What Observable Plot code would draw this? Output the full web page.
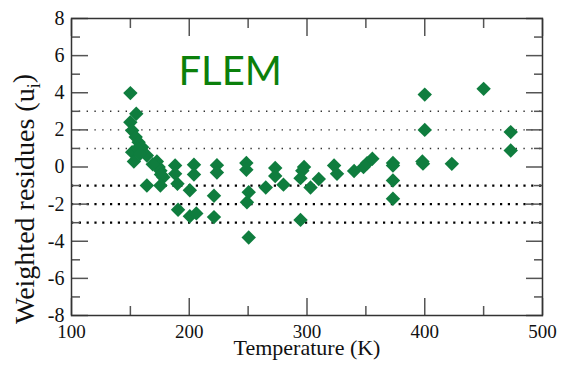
<!DOCTYPE html>
<html><head><meta charset="utf-8">
<script src="https://cdn.jsdelivr.net/npm/d3@7"></script>
<script src="https://cdn.jsdelivr.net/npm/@observablehq/plot@0.6"></script>
<style>body{margin:0;background:#fff}</style>
</head><body><div id="chart"></div>
<script>
const temperature = [150, 155, 150, 151.5, 154.5, 157, 160, 151.5, 153, 156,
  164, 158, 172.5, 174, 175.5, 178, 176, 169, 164, 175.5,
  190, 188, 188, 204, 204, 200.5, 190.5, 200.5, 206, 221,
  221, 223.5, 223.5, 248.5, 248.5, 250.5, 249, 250.5, 265, 273,
  273, 280, 294.5, 297.5, 296, 294.5, 303, 310, 323, 325.5,
  340, 348, 351, 355.5, 373, 373, 373, 373, 398, 398.5,
  400, 400, 423, 450, 473, 473];
const residues = [3.98, 2.87, 2.41, 1.97, 1.61, 1.34, 1.07, 0.8, 0.3, 1.0,
  0.62, 0.7, 0.3, 0.0, -0.2, -0.55, -0.4, 0.15, -1.0, -1.0,
  -0.9, 0.08, -0.37, 0.12, -0.4, -1.25, -2.3, -2.65, -2.5, -2.7,
  -1.55, 0.1, -0.3, 0.22, -0.15, -1.36, -1.9, -3.8, -1.1, -0.05,
  -0.48, -0.95, -2.85, 0.0, -0.2, -0.6, -1.1, -0.65, 0.08, -0.37,
  -0.22, 0.0, 0.2, 0.44, 0.22, 0.08, -0.73, -1.71, 0.3, 0.18,
  2.0, 3.9, 0.17, 4.21, 1.88, 0.89];
const xMajor = [100, 200, 300, 400, 500];
const xMinor = [150, 250, 350, 450];
const yMajor = [-8, -6, -4, -2, 0, 2, 4, 6, 8];
const yMinor = [-7, -5, -3, -1, 1, 3, 5, 7];
const dottedUpper = [1, 2, 3];
const dottedLower = [-1, -2, -3];
const xTitle = "Temperature (K)";
const yTitle = "Weighted residues (u)";
const yTitleSub = "i";
const label = "FLEM";

const points = temperature.map((t, i) => ({t, u: residues[i]}));
const fmt = d => String(d);
const tk = {stroke: "#555", strokeWidth: 1.5, fill: "none"};

const chart = Plot.plot({
  width: 564, height: 369,
  marginLeft: 71, marginRight: 22, marginTop: 18, marginBottom: 54,
  style: {fontFamily: "'Liberation Serif', serif", background: "#fff", color: "#111"},
  x: {domain: [100, 500]},
  y: {domain: [-8, 8]},
  marks: [
    Plot.ruleY(dottedUpper, {stroke: "#333", strokeWidth: 1.4, strokeDasharray: "1.4,6.4"}),
    Plot.ruleY(dottedLower, {stroke: "#000", strokeWidth: 2.2, strokeDasharray: "2.2,5.6"}),
    Plot.axisX(xMajor, {anchor: "bottom", tickSize: -17, ...tk}),
    Plot.axisX(xMinor, {anchor: "bottom", tickSize: -9, ...tk}),
    Plot.axisX(xMajor, {anchor: "top", tickSize: -17, ...tk}),
    Plot.axisX(xMinor, {anchor: "top", tickSize: -9, ...tk}),
    Plot.axisY(yMajor, {anchor: "left", tickSize: -17, ...tk}),
    Plot.axisY(yMinor, {anchor: "left", tickSize: -9, ...tk}),
    Plot.axisY(yMajor, {anchor: "right", tickSize: -17, ...tk}),
    Plot.axisY(yMinor, {anchor: "right", tickSize: -9, ...tk}),
    Plot.axisX(xMajor, {anchor: "bottom", tickSize: 0, tickPadding: 9, fontSize: 19, tickFormat: fmt, label: null, fill: "#111"}),
    Plot.axisY(yMajor, {anchor: "left", tickSize: 0, tickPadding: 7, fontSize: 20, tickFormat: fmt, label: null, fill: "#111"}),
    Plot.frame({stroke: "#333", strokeWidth: 1.5}),
    Plot.dot(points, {x: "t", y: "u", symbol: "diamond2", r: 6.5, fill: "#0f7d3e", stroke: "none"}),
    Plot.text([xTitle], {frameAnchor: "bottom", dy: 32, fontSize: 22, lineAnchor: "middle", fill: "#111"}),
    Plot.text([yTitle], {frameAnchor: "left", textAnchor: "middle", rotate: -90, dx: -46, dy: 32, fontSize: 28, lineAnchor: "middle", fill: "#111"}),
    Plot.text([label], {frameAnchor: "top-left", textAnchor: "start", lineAnchor: "top", dx: 107, dy: 38, fontSize: 40, fontFamily: "Lato", fill: "#0b800b"})
  ]
});
document.getElementById("chart").appendChild(chart);
// subscript i in the y title
chart.querySelectorAll("text").forEach(t => {
  if (t.textContent === yTitle) {
    t.textContent = yTitle.slice(0, -1);
    const s = document.createElementNS("http://www.w3.org/2000/svg", "tspan");
    s.textContent = yTitleSub; s.setAttribute("font-size", "65%"); s.setAttribute("dy", "0.3em");
    const c = document.createElementNS("http://www.w3.org/2000/svg", "tspan");
    c.textContent = ")"; c.setAttribute("dy", "-0.3em");
    t.appendChild(s); t.appendChild(c);
  }
});
</script>
</body></html>
